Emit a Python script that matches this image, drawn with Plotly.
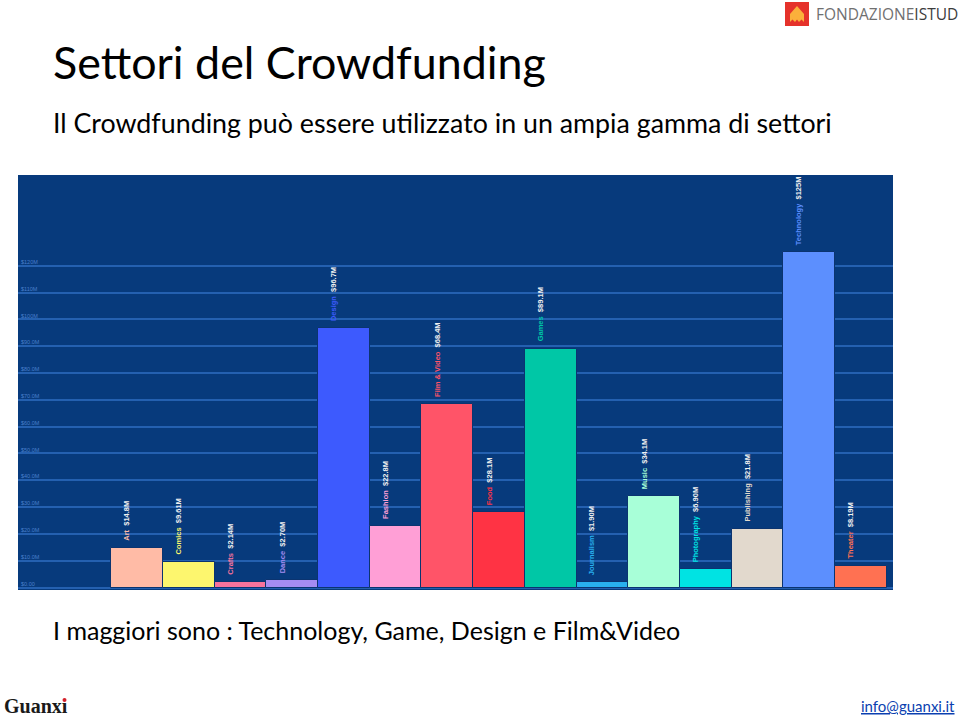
import plotly.graph_objects as go

# ---------------- data ----------------
categories = ["Art", "Comics", "Crafts", "Dance", "Design", "Fashion", "Film & Video",
              "Food", "Games", "Journalism", "Music", "Photography", "Publishing",
              "Technology", "Theater"]
values_musd = [14.8, 9.61, 2.14, 2.70, 96.7, 22.8, 68.4, 28.1, 89.1, 1.90, 34.1, 6.90,
               21.8, 125, 8.19]
tick_values_musd = [0, 10, 20, 30, 40, 50, 60, 70, 80, 90, 100, 110, 120]

title_text = "Settori del Crowdfunding"
subtitle_text = "Il Crowdfunding può essere utilizzato in un ampia gamma di settori"
bottom_text = "I maggiori sono : Technology, Game, Design e Film&Video"

# ---------------- styles ----------------
bar_colors = ["#ffbba6", "#fdf66e", "#f7739c", "#a48cf2", "#3d5afe", "#ff9fd6", "#ff5468",
              "#ff3344", "#00c7a6", "#29b0ee", "#a8ffd8", "#00e3e3", "#e2d9cd", "#5c8ffe",
              "#ff7152"]
BG = "#073a7c"
GRID = "#2460b0"

W, H = 960, 717


def px(x):
    return x / W


def py(y):
    return 1 - y / H


y_vals = [v * 1e6 for v in values_musd]


def fmt(v):
    if v >= 100:
        return f"${v:.0f}M"
    if v >= 10:
        return f"${v:.1f}M"
    return f"${v:.2f}M"


fig = go.Figure()
fig.add_trace(go.Bar(
    x=categories,
    y=y_vals,
    marker=dict(color=bar_colors, line=dict(color="#0b3470", width=1)),
    hoverinfo="skip",
))

fig.update_layout(
    width=W, height=H,
    margin=dict(l=0, r=0, t=0, b=0),
    paper_bgcolor="white",
    plot_bgcolor=BG,
    bargap=0,
    showlegend=False,
    xaxis=dict(
        domain=[px(18), px(893)],
        range=[-2.3, 14.62],
        showticklabels=False,
        showgrid=False,
        zeroline=False,
        ticks="",
        fixedrange=True,
    ),
    yaxis=dict(
        domain=[py(590), py(175)],
        range=[-0.93e6, 153.9e6],
        tickvals=[t * 1e6 for t in tick_values_musd],
        tickformat="$.3s",
        ticklabelposition="inside top",
        tickfont=dict(family="Liberation Sans", size=5.5, color="#4a7fcc"),
        showgrid=True,
        gridcolor=GRID,
        gridwidth=1.5,
        zeroline=True,
        zerolinecolor=GRID,
        zerolinewidth=1.5,
        ticks="",
        fixedrange=True,
    ),
)

annotations = []
# bar labels (rotated), anchored on each bar's top through the data axes
for n, v, c in zip(categories, values_musd, bar_colors):
    annotations.append(dict(
        text=f"<span style='color:{c}'>{n}</span>  <span style='color:#f0f0f0'>{fmt(v)}</span>",
        x=n, y=v * 1e6, xref="x", yref="y",
        xanchor="center", yanchor="bottom", textangle=-90,
        xshift=-10, yshift=5, showarrow=False,
        font=dict(family="Liberation Sans", size=7.5, weight="bold"),
    ))

TF = "Lato"
annotations.append(dict(text=title_text, x=px(51), y=py(62), xref="paper", yref="paper",
                        xanchor="left", yanchor="middle", showarrow=False,
                        font=dict(family=TF, size=44.8, color="#000000")))
annotations.append(dict(text=subtitle_text, x=px(51), y=py(123), xref="paper", yref="paper",
                        xanchor="left", yanchor="middle", showarrow=False,
                        font=dict(family=TF, size=26.8, color="#000000")))
annotations.append(dict(text=bottom_text, x=px(51), y=py(630), xref="paper", yref="paper",
                        xanchor="left", yanchor="middle", showarrow=False,
                        font=dict(family=TF, size=25, color="#000000")))
# Fondazione ISTUD text
annotations.append(dict(text="<span style='color:#707070'>FONDAZIONE</span><span style='color:#3c3c3c'>ISTUD</span>",
                        x=px(814), y=py(14), xref="paper", yref="paper",
                        xanchor="left", yanchor="middle", showarrow=False,
                        font=dict(family="Open Sans", size=15.5)))
# Guanxi
annotations.append(dict(text="<b>Guanx</b><b>ı</b>", x=px(2), y=py(706), xref="paper", yref="paper",
                        xanchor="left", yanchor="middle", showarrow=False,
                        font=dict(family="Liberation Serif", size=20, color="#1a1a1a")))
# email
annotations.append(dict(text="<u>info@guanxi.it</u>", x=px(957), y=py(706), xref="paper", yref="paper",
                        xanchor="right", yanchor="middle", showarrow=False,
                        font=dict(family=TF, size=15, color="#0b3fb0")))
fig.update_layout(annotations=annotations)

# logo shapes
shapes = []
shapes.append(dict(type="rect", xref="paper", yref="paper",
                   x0=px(785), x1=px(809), y0=py(26), y1=py(2),
                   fillcolor="#e5322b", line=dict(width=0)))
house = [(790, 14), (797, 6), (804, 14), (804, 22), (801.5, 19.5), (799, 22), (797, 19.5),
         (795, 22), (792.5, 19.5), (790, 22)]
path = "M " + " L ".join(f"{px(a):.5f},{py(b):.5f}" for a, b in house) + " Z"
shapes.append(dict(type="path", xref="paper", yref="paper", path=path,
                   fillcolor="#fbb03b", line=dict(width=0)))
# red dot on the i of Guanxi
shapes.append(dict(type="circle", xref="paper", yref="paper",
                   x0=px(62.5), x1=px(66.5), y0=py(702), y1=py(698),
                   fillcolor="#d4202a", line=dict(width=0)))
fig.update_layout(shapes=shapes)

fig.write_html("out.html")
